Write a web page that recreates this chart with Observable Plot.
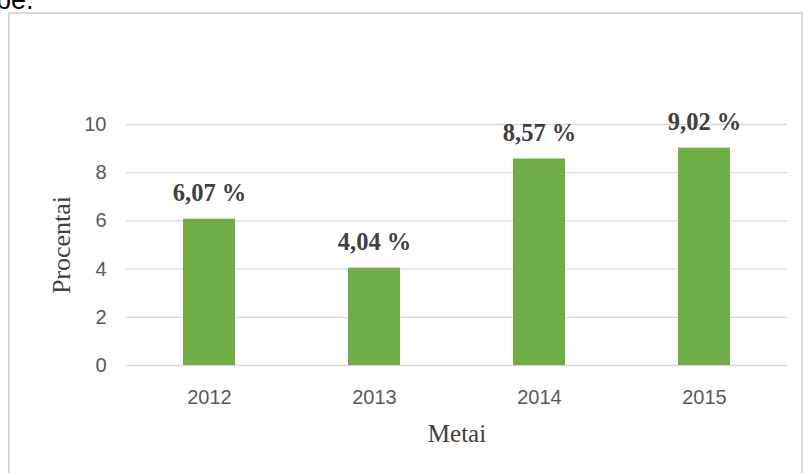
<!DOCTYPE html>
<html>
<head>
<meta charset="utf-8">
<script src="https://cdn.jsdelivr.net/npm/d3@7"></script>
<script src="https://cdn.jsdelivr.net/npm/@observablehq/plot@0.6"></script>
<style>
  html, body { margin: 0; padding: 0; background: #fff; width: 803px; height: 473px; overflow: hidden; }
  #frag { position: absolute; left: -4px; top: -15px; font-family: "Liberation Sans", sans-serif; font-size: 27px; color: #000; }
  #box { position: absolute; left: 8px; top: 12px; width: 791px; height: 480px; border: 2px solid #d9d9d9; }
  #chart { position: absolute; left: 0; top: 0; }
</style>
</head>
<body>
<div id="frag">be.</div>
<div id="box"></div>
<div id="chart"></div>
<script>
const years = ["2012", "2013", "2014", "2015"];
const values = [6.07, 4.04, 8.57, 9.02];
const yTicks = [0, 2, 4, 6, 8, 10];
const xTitle = "Metai";
const yTitle = "Procentai";

const data = years.map((y, i) => ({year: y, value: values[i]}));
const fmt = v => d3.format(".2f")(v).replace(".", ",") + " %";

const chart = Plot.plot({
  width: 803,
  height: 473,
  marginLeft: 126,
  marginRight: 16,
  marginTop: 124,
  marginBottom: 108,
  style: {fontFamily: "'Liberation Sans', sans-serif", fontSize: "20px", color: "#595959", background: "transparent"},
  x: {domain: years, paddingInner: 0.685, paddingOuter: 0.3425, label: null},
  y: {domain: [0, 10], label: null},
  marks: [
    Plot.gridY(yTicks, {stroke: "#d9d9d9", strokeOpacity: 1, strokeWidth: 1.3}),
    Plot.barY(data, {x: "year", y: "value", fill: "#70ad47"}),
    Plot.text(data, {x: "year", y: "value", text: d => fmt(d.value), dy: -18, lineAnchor: "bottom",
      fontFamily: "'Liberation Serif', serif", fontWeight: "bold", fontSize: 24.5, fill: "#404040"}),
    Plot.axisY(yTicks, {tickSize: 0, tickPadding: 20, label: null, fill: "#595959"}),
    Plot.axisX({tickSize: 0, tickPadding: 24, label: null, fill: "#595959"}),
    Plot.text([xTitle], {frameAnchor: "bottom", dy: 76, lineAnchor: "bottom",
      fontFamily: "'Liberation Serif', serif", fontSize: 25, fill: "#404040"}),
    Plot.text([yTitle], {frameAnchor: "left", dx: -57, rotate: -90, lineAnchor: "bottom", textAnchor: "middle",
      fontFamily: "'Liberation Serif', serif", fontSize: 26, fill: "#404040"})
  ]
});
document.getElementById("chart").appendChild(chart);
</script>
</body>
</html>
